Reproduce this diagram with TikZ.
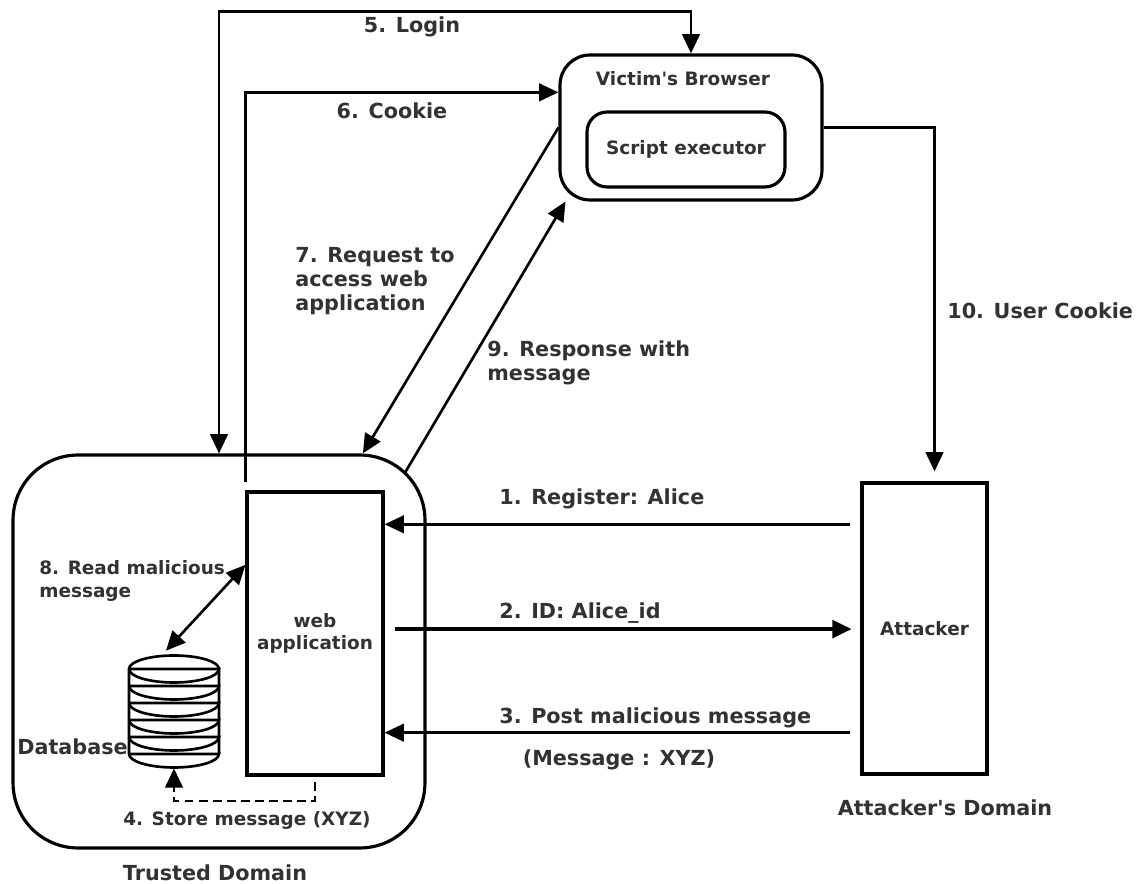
\documentclass[tikz,border=0pt]{standalone}
\usepackage{fontspec}
\setmainfont{DejaVu Sans}[Ligatures=TeXOff]
\usepackage{tikz}
\usetikzlibrary{positioning}
\usetikzlibrary{arrows.meta}
\usetikzlibrary{calc}
\definecolor{labelgray}{RGB}{50,50,50}
\tikzset{box node/.style={rectangle,draw,line width=1.8pt,inner sep=0pt,align=center,text=labelgray,font=\fontsize{10.5}{12.6}\selectfont\bfseries},
	big label/.style={inner sep=0pt,align=left,text=labelgray,font=\fontsize{11.8}{13.6}\selectfont\bfseries},
	small label/.style={inner sep=0pt,align=left,text=labelgray,font=\fontsize{10.5}{13}\selectfont\bfseries},
	flow/.style={line width=1.5pt},}

\begin{document}
\begin{tikzpicture}[x=0.02cm, y=-0.02cm, >={Triangle[length=11pt,width=10pt]}, line join=miter]
	\useasboundingbox (0,0) rectangle (1140,884);
	% boxes
	\node[box node, rounded corners=1.3cm, minimum width=8.24cm, minimum height=7.86cm] (trusted) at (219,651.5) {};
	\node[box node, minimum width=2.72cm, minimum height=5.66cm] (webapp) at (315,633.5) {web\\application};
	\node[inner sep=0pt, minimum width=1.8cm, minimum height=2.26cm] (db) at (174,711.5) {};
	\node[box node, rounded corners=0.6cm, minimum width=5.24cm, minimum height=2.9cm] (browser) at (691,127.5) {};
	\node[box node, rounded corners=0.4cm, minimum width=3.96cm, minimum height=1.5cm] (executor) at (686,149.5) {Script executor};
	\node[box node, minimum width=2.5cm, minimum height=5.82cm] (attacker) at (924.5,628.5) {Attacker};
	\node[small label] (browsertitle) at (683,79) {Victim's Browser};

	% database stack
	\draw[flow] (129,754) -- (129,669) arc[start angle=180, end angle=0, x radius=0.9cm, y radius=0.27cm] -- (219,754);
	\foreach \k in {0,...,5}
		\draw[flow] (129,669+17*\k) -- (219,669+17*\k) arc[start angle=0, end angle=-180, x radius=0.9cm, y radius=0.27cm];

	% labels
	\node[big label, anchor=east] (dblabel) at (128,747) {Database};
	\node[big label] (trustedlabel) at (215,873) {Trusted Domain};
	\node[big label] (attackerlabel) at (945,808) {Attacker's Domain};
	\node[small label, anchor=west] (l8) at (39,581) {8. Read malicious\\message};
	\node[small label] (l4) at (247,820) {4. Store message (XYZ)};
	\node[big label] (l5) at (412,27) {5. Login};
	\node[big label] (l6) at (392,111) {6. Cookie};
	\node[big label, anchor=west] (l7) at (295,281) {7. Request to\\access web\\application};
	\node[big label, anchor=west] (l9) at (487,363) {9. Response with\\message};
	\node[big label, anchor=west] (l10) at (947,311) {10. User Cookie};
	\node[big label, anchor=west] (l1) at (499,499) {1. Register: Alice};
	\node[big label, anchor=west] (l2) at (499,613) {2. ID: Alice\_id};
	\node[big label, anchor=west] (l3) at (499,718) {3. Post malicious message};
	\node[big label] (l3b) at (619,760) {(Message : XYZ)};

	% connectors
	\draw[flow, ->, shorten <=5.7pt] ([yshift=59.3pt]attacker.west) coordinate (r1) -- (webapp.east |- r1);
	\draw[line width=2.3pt, ->, shorten <=5.7pt, shorten >=5pt] ([yshift=2.5pt]webapp.east) coordinate (r2) -- (attacker.west |- r2);
	\draw[flow, ->, shorten <=5.7pt] ([yshift=-59.3pt]attacker.west) coordinate (r3) -- (webapp.east |- r3);
	\draw[flow, dash pattern=on 5pt off 3pt, ->] ([yshift=-3pt]webapp.south) -- ++(0,19) -| (db.south);
	\draw[flow, <->] (trusted.north) |- ($(browser.north)+(0,-42)$) -- (browser.north);
	\draw[flow, ->] ([yshift=5pt]webapp.north west) |- ([yshift=20pt]browser.west);
	\draw[flow, ->, shorten >=5.7pt] (browser.east) -| ([xshift=5.7pt]attacker.north);
	\path[draw, flow]
	(browser.west) edge[->] (trusted.54)
	($(trusted.north east)+(-22,20)$) edge[->] ([xshift=4pt]browser.south west)
	($(db.north)+(-8,-4)$) edge[<->] ($(webapp.north west)!0.26!(webapp.south west)$);
\end{tikzpicture}
\end{document}
